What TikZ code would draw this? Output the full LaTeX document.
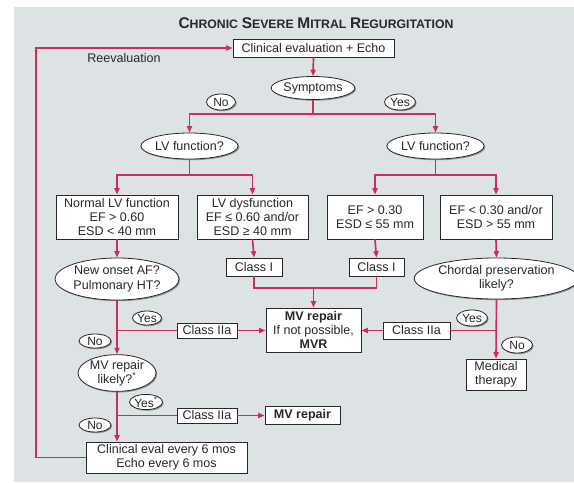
\documentclass[tikz,border=0pt]{standalone}
\usepackage{fontspec}
\setmainfont{Liberation Sans}
\usetikzlibrary{arrows.meta,shadows,shapes.geometric}
\definecolor{panel}{RGB}{221,226,229}
\definecolor{crim}{RGB}{200,45,92}
\definecolor{ink}{RGB}{40,40,40}
\newcommand\capw[2]{{\fontsize{11.6}{13}\selectfont #1}{\fontsize{9.2}{11}\selectfont #2}}
\tikzset{
  sz/.style 2 args={minimum width=#1*0.75pt, minimum height=#2*0.75pt},
  base/.style={draw=ink, line width=0.6pt, fill=white, text=ink, inner sep=0pt, align=center,
    font=\fontsize{9.4}{10.7}\selectfont,
    drop shadow={shadow xshift=0.9pt, shadow yshift=-0.9pt, fill=black!55, opacity=0.7}},
  bx/.style={base, rectangle},
  el/.style={base, ellipse},
  lbl/.style={base, ellipse, font=\fontsize{9}{10}\selectfont},
  ln/.style={draw=crim, line width=1.25pt},
  arr/.style={ln, -{Triangle[length=4.8pt,width=3.8pt]}},
}
\begin{document}
\begin{tikzpicture}[x=0.75pt,y=-0.75pt]
\useasboundingbox (0,0) rectangle (574,482);
\fill[white] (0,0) rectangle (574,482);
\fill[panel] (14,7) rectangle (574,482);

\node[text=ink, font=\bfseries] (title) at (316,23)
  {\capw{C}{HRONIC} \capw{S}{EVERE} \capw{M}{ITRAL} \capw{R}{EGURGITATION}};

\node[bx, sz={161}{18}] (clin) at (313.5,48) {Clinical evaluation + Echo};
\node[text=ink, inner sep=0pt, font=\fontsize{9.4}{10.7}\selectfont] (reeval) at (124,58) {Reevaluation};
\node[el, sz={80}{23}] (sym) at (313,88) {Symptoms};
\node[lbl, sz={29}{16}] (no1) at (221,102) {No};
\node[lbl, sz={31}{16}] (yes1) at (400,102) {Yes};
\node[el, sz={91}{26}] (lvL) at (189.5,146) {LV function?};
\node[el, sz={89}{26}] (lvR) at (435.5,146) {LV function?};

\node[bx, sz={122}{44}] (normal) at (117,217) {Normal LV function\\EF > 0.60\\ESD < 40 mm};
\node[bx, sz={111}{44}] (dysf) at (252.5,217) {LV dysfunction\\EF ≤ 0.60 and/or\\ESD ≥ 40 mm};
\node[bx, sz={96}{44}] (ef30) at (375,217) {EF > 0.30\\ESD ≤ 55 mm};
\node[bx, sz={112}{44}] (ef30b) at (496,217) {EF < 0.30 and/or\\ESD > 55 mm};

\node[bx, sz={56}{18}] (c1L) at (254,267) {Class I};
\node[bx, sz={55}{18}] (c1R) at (376.5,267) {Class I};
\node[el, sz={124}{42}] (newaf) at (117,279) {New onset AF?\\Pulmonary HT?};
\node[el, sz={141}{41}] (chord) at (496.5,278.5) {Chordal preservation\\likely?};

\node[bx, sz={95}{44}] (mvbox) at (313.5,330) {\textbf{MV repair}\\If not possible,\\\textbf{MVR}};
\node[bx, sz={60}{15}] (c2L) at (207,330.5) {Class IIa};
\node[bx, sz={67}{17}] (c2R) at (416.5,330.5) {Class IIa};
\node[lbl, sz={29}{14}] (yes2) at (147,318) {Yes};
\node[lbl, sz={32}{14}] (no2) at (95,341) {No};
\node[lbl, sz={31}{16}] (yes3) at (472,318) {Yes};
\node[lbl, sz={31}{16}] (no3) at (517,345) {No};

\node[el, sz={78}{32}] (mvl) at (117,373) {MV repair\\likely?\textsuperscript{*}};
\node[bx, sz={60}{31}] (med) at (496,374.5) {Medical\\therapy};
\node[lbl, sz={31}{14}] (yes4) at (146,402) {Yes\textsuperscript{*}};
\node[bx, sz={60}{15}] (c2b) at (207,415.5) {Class IIa};
\node[bx, sz={75}{18}] (mvr) at (302.5,415) {\textbf{MV repair}};
\node[lbl, sz={32}{14}] (no4) at (95,425) {No};
\node[bx, sz={161}{31}] (bot) at (166.5,457.5) {Clinical eval every 6 mos\\Echo every 6 mos};

% connectors
\draw[arr] (clin.south) -- (sym.north);
\coordinate (b1) at (313,114);
\draw[ln] (sym.south) -- (b1);
\draw[arr] (b1) -| (lvL.north);
\draw[arr] (b1) -| (lvR.north);

\coordinate (b2) at (189.5,175);
\draw[ln] (lvL.south) -- (b2);
\draw[arr] (b2) -| (normal.north);
\draw[arr] (b2) -| (dysf.north);
\coordinate (b3) at (435.5,175);
\draw[ln] (lvR.south) -- (b3);
\draw[arr] (b3) -| (ef30.north);
\draw[arr] (b3) -| (ef30b.north);

\draw[arr] (dysf.south) -- (c1L.north);
\draw[arr] (ef30.south) -- (c1R.north);
\coordinate (m1) at (313.5,288);
\draw[ln] (c1L.south) |- (m1);
\draw[ln] (c1R.south) |- (m1);
\draw[arr] (m1) -- (mvbox.north);

\draw[arr] (normal.south) -- (newaf.north);
\draw[arr] (newaf.south) -- (mvl.north);
\coordinate (j1) at (117,330.5);
\draw[ln] (j1) -- (c2L.west);
\draw[arr] (c2L.east) -- (mvbox.west |- c2L.east);

\draw[arr] (ef30b.south) -- (chord.north);
\draw[arr] (chord.south) -- (med.north);
\coordinate (j2) at (496,330.5);
\draw[ln] (j2) -- (c2R.east);
\draw[arr] (c2R.west) -- (mvbox.east |- c2R.west);

\draw[arr] (mvl.south) -- (mvl.south |- bot.north);
\coordinate (j3) at (117,415.5);
\draw[ln] (j3) -- (c2b.west);
\draw[arr] (c2b.east) -- (mvr.west |- c2b.east);

\draw[arr] (bot.west) -- (36,457.5) -- (36,48) -- (clin.west);
\end{tikzpicture}
\end{document}
